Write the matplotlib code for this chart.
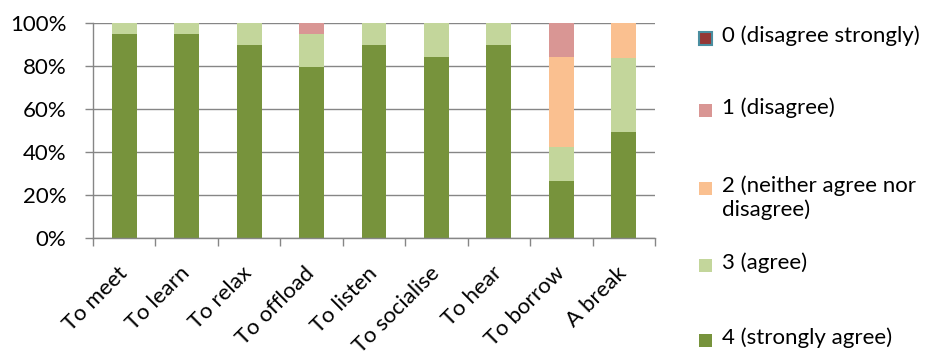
import numpy as np
import matplotlib
matplotlib.use('Agg')
import matplotlib.pyplot as plt
from matplotlib.patches import Rectangle

plt.rcParams['font.family'] = ['Lato', 'DejaVu Sans']

categories = ['To meet', 'To learn', 'To relax', 'To offload', 'To listen',
              'To socialise', 'To hear', 'To borrow', 'A break']
# percent of responses per answer, bottom (4) to top (0)
agree_strongly = [94.8, 94.8, 90.0, 79.6, 90.0, 84.2, 90.0, 26.3, 49.3]
agree = [5.2, 5.2, 10.0, 15.4, 10.0, 15.8, 10.0, 15.8, 34.2]
neither = [0, 0, 0, 0, 0, 0, 0, 42.1, 16.5]
disagree = [0, 0, 0, 5.0, 0, 0, 0, 15.8, 0]
disagree_strongly = [0, 0, 0, 0, 0, 0, 0, 0, 0]

series = [
    ('4 (strongly agree)', agree_strongly, '#77933C'),
    ('3 (agree)', agree, '#C3D69B'),
    ('2 (neither agree nor\ndisagree)', neither, '#FAC090'),
    ('1 (disagree)', disagree, '#D99694'),
    ('0 (disagree strongly)', disagree_strongly, '#953735'),
]

W, H = 926, 353
fig = plt.figure(figsize=(W / 100, H / 100), dpi=100)
ax = fig.add_axes([93 / W, 1 - 238 / H, (655 - 93) / W, (238 - 23) / H])

x = np.arange(len(categories))
bottom = np.zeros(len(categories))
for name, vals, col in series:
    vals = np.array(vals, dtype=float)
    ax.bar(x, vals, 0.4, bottom=bottom, color=col, zorder=2)
    bottom += vals

ax.set_xlim(-0.5, len(categories) - 0.5)
ax.set_ylim(0, 100)
ax.set_yticks(np.arange(0, 101, 20))
ax.set_yticklabels(['%d%%' % v for v in range(0, 101, 20)], fontsize=16)
ax.yaxis.grid(True, color='#868686', linewidth=1, zorder=0)
ax.set_xticks(np.arange(-0.5, len(categories), 1))
ax.set_xticklabels([])
ax.set_xticks(x, minor=True)
ax.set_xticklabels(categories, minor=True, rotation=45, ha='right', va='center',
                   rotation_mode='anchor', fontsize=16)
ax.tick_params(axis='x', which='minor', length=0, pad=23)
ax.tick_params(axis='both', which='major', length=6, width=1, color='#868686')
ax.tick_params(axis='y', pad=13)
for s in ['top', 'right']:
    ax.spines[s].set_visible(False)
for s in ['left', 'bottom']:
    ax.spines[s].set_color('#868686')
    ax.spines[s].set_linewidth(1)

# legend, drawn like the original (patch beside first line of each entry)
leg_y = [38, 110, 188, 265, 340]
for (name, vals, col), yy in zip(series[::-1], leg_y):
    ec = '#4A8EA0' if name.startswith('0') else col
    lw = 1.5 if name.startswith('0') else 0
    fig.add_artist(Rectangle((699 / W, 1 - (yy + 6.5) / H), 13 / W, 13 / H,
                             facecolor=col, edgecolor=ec, linewidth=lw,
                             transform=fig.transFigure))
    fig.text(722 / W, 1 - (yy - 13) / H, name, fontsize=16, va='top',
             ha='left', linespacing=1.25)

fig.savefig('out.png', dpi=100)
